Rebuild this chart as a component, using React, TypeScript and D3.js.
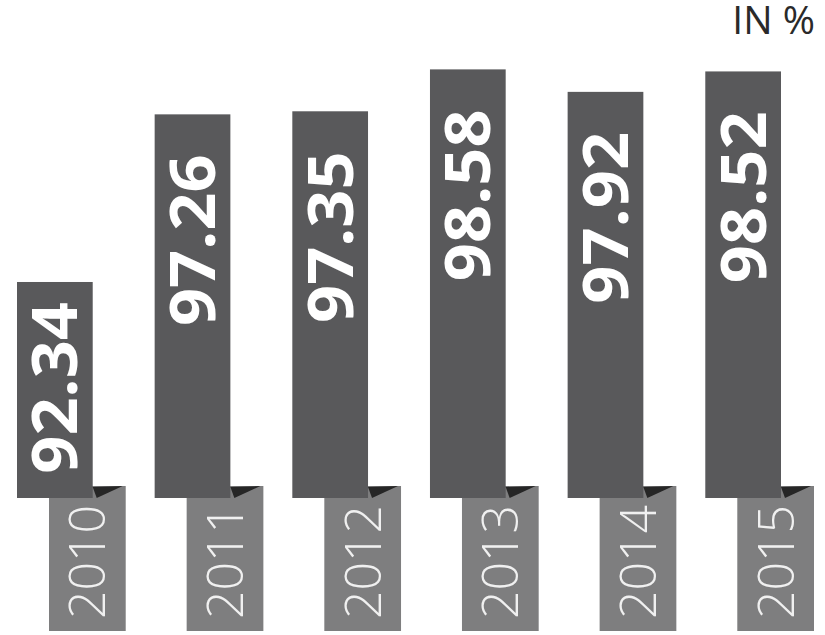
import React from 'react';
import * as d3 from 'd3';

// values in %, one per year
const years = ['2010', '2011', '2012', '2013', '2014', '2015'];
const values = [92.34, 97.26, 97.35, 98.58, 97.92, 98.52];
const unitLabel = 'IN %';

const W = 825;
const H = 635;
const baseY = 498;

export default function App() {
  const x = d3.scaleBand<string>()
    .domain(years)
    .range([17, 781])
    .paddingInner(0.45)
    .paddingOuter(0);

  const y = d3.scaleLinear()
    .domain([86, 100])
    .range([baseY, 21]);

  const bw = x.bandwidth();
  // year tag sits below and to the right of each bar
  const tagDx = 32;
  const tagW = bw + 1;
  const tagTop = 486;
  const tagBottom = 631;

  return (
    <svg
      width={W}
      height={H}
      style={{ position: 'absolute', left: 0, top: 0, background: '#fff' }}
      fontFamily="'Open Sans', sans-serif"
    >
      {years.map((yr, i) => {
        const bx = x(yr)!;
        const top = y(values[i]);
        const h = baseY - top;
        const tx = bx + tagDx;
        const barRight = bx + bw;
        const valTop = top + Math.min(40, h - 196);
        return (
          <g key={yr}>
            <rect x={tx} y={tagTop} width={tagW} height={tagBottom - tagTop} fill="#7e7e7f" />
            <rect x={bx} y={top} width={bw} height={h} fill="#59595b" />
            <polygon
              points={`${barRight},${tagTop + 1} ${tx + tagW - 3},${tagTop} ${barRight + 4},${baseY}`}
              fill="#262626"
            />
            <text
              transform={`translate(${bx + bw / 2 + 22.5},${valTop}) rotate(-90) scale(1.06,1)`}
              textAnchor="end"
              fill="#ffffff"
              fontWeight={700}
              fontSize={63}
            >
              {values[i].toFixed(2)}
            </text>
            <text
              transform={`translate(${tx + tagW / 2 + 18},${tagBottom - 12}) rotate(-90)`}
              textAnchor="start"
              fill="#f0f0f0"
              fontWeight={350}
              fontSize={50}
            >
              {yr}
            </text>
          </g>
        );
      })}
      <text x={815} y={34} textAnchor="end" fill="#2a2a2a" fontSize={39}>
        {unitLabel}
      </text>
    </svg>
  );
}
